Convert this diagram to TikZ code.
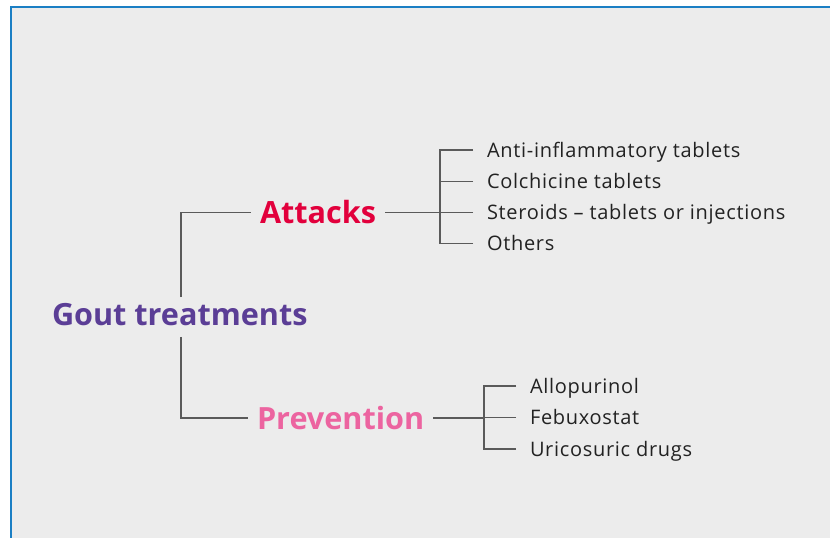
\documentclass[tikz,border=0pt]{standalone}
\usepackage{fontspec}
\setmainfont{Open Sans}
\usetikzlibrary{positioning}

\definecolor{panelgray}{HTML}{ECECEC}
\definecolor{frameblue}{HTML}{1B7FC4}
\definecolor{goutpurple}{HTML}{5B3E96}
\definecolor{attackred}{HTML}{E2003C}
\definecolor{preventpink}{HTML}{EC64A0}
\definecolor{linegray}{HTML}{5A5A5A}
\definecolor{itemtext}{HTML}{222222}

\tikzset{
  head/.style={font=\bfseries\fontsize{30.6}{36}\selectfont, anchor=west,
    inner sep=0pt, outer xsep=9pt, text height=22.5pt, text depth=0pt},
  item/.style={font=\fontsize{20}{24}\selectfont\addfontfeatures{LetterSpace=3.5},
    text=itemtext, anchor=west,
    inner sep=0pt, outer xsep=14pt, text height=14pt, text depth=0pt},
  link/.style={draw=linegray, line width=1.1pt}
}

\begin{document}
\begin{tikzpicture}[x=1pt, y=-1pt]
    \useasboundingbox (0,0) rectangle (830,538);
    \fill[white] (0,0) rectangle (830,538);
    \fill[panelgray] (11,7) rectangle (830,538);
    \draw[frameblue, line width=2.5pt] (11,538) -- (11,7) -- (830,7);

    \node[head, text=goutpurple, outer xsep=0pt] (gout) at (52,314.5) {Gout treatments};
    \node[head, text=attackred] (attacks) at (251,212.5) {Attacks};
    \node[head, text=preventpink] (prevent) at (248,418) {Prevention};

    \coordinate (gstem) at (181,0);
    \coordinate (aspine) at (440,212.5);
    \coordinate (pspine) at (484,418);

    \foreach \txt [count=\i] in {Anti-inflammatory tablets, Colchicine tablets,
        Steroids – tablets or injections, Others}
      \node[item] (att\i) at (473,150+31.3*\i-31.3) {\txt};
    \foreach \txt [count=\i] in {Allopurinol, Febuxostat, Uricosuric drugs}
      \node[item] (prev\i) at (516,386+31.5*\i-31.5) {\txt};

    \path[link] ([yshift=6pt]gout.north -| gstem) |- (attacks.west);
    \path[link] ([yshift=-11pt]gout.south -| gstem) |- (prevent.west);
    \path[link] (attacks.east) -- (aspine);
    \path[link] (prevent.east) -- (pspine);
    \foreach \i in {1,...,4}
      \path[link] (att\i.west) -| (aspine);
    \foreach \i in {1,...,3}
      \path[link] (prev\i.west) -| (pspine);
\end{tikzpicture}
\end{document}
